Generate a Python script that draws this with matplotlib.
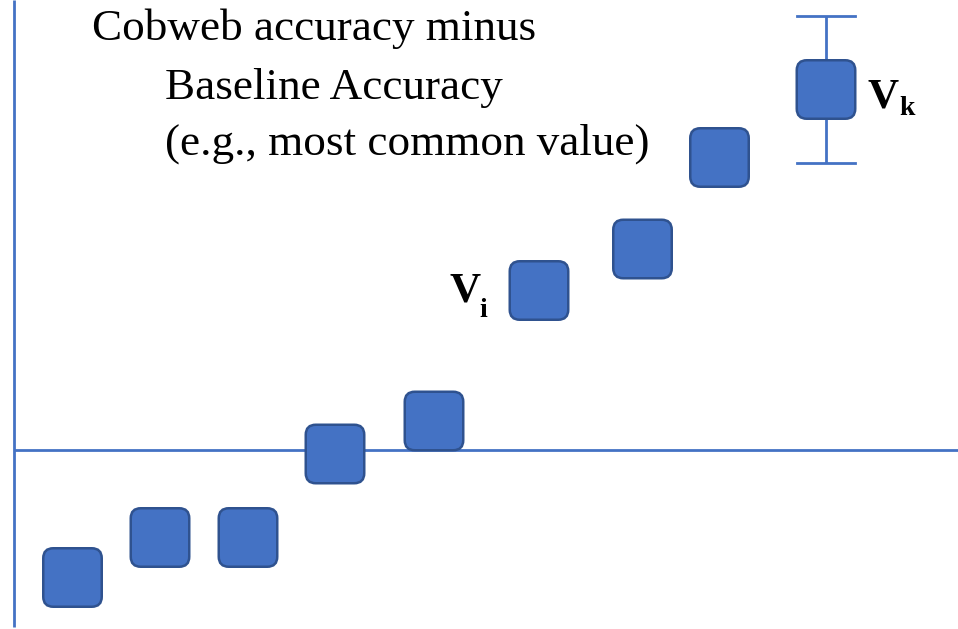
import matplotlib
matplotlib.use("Agg")
import matplotlib.pyplot as plt
from matplotlib.patches import FancyBboxPatch

# Data: attribute positions and (Cobweb accuracy - baseline accuracy)
x_pos = [0.725, 1.60, 2.48, 3.35, 4.34, 5.39, 6.425, 7.195, 8.26]
acc_diff = [-1.28, -0.88, -0.88, -0.045, 0.285, 1.59, 2.005, 2.92, 3.60]
err_index = 8
err_val = 0.737
label_i_index = 5
label_k_index = 8
title_lines = ["Cobweb accuracy minus", "Baseline Accuracy", "(e.g., most common value)"]

FILL = "#4472C4"
EDGE = "#2F528F"
LINE = "#4472C4"
SIZE = 0.585
LW = 2.0

fig = plt.figure(figsize=(9.58, 6.29), dpi=100)
ax = fig.add_axes([0, 0, 1, 1])
ax.set_xlim(0, 9.58)
ax.set_ylim(-1.795, 4.495)
ax.axis("off")

# axes lines
ax.plot([0.14, 0.14], [-1.77, 4.495], color=LINE, lw=LW, solid_capstyle="butt")
ax.plot([0.14, 9.58], [0, 0], color=LINE, lw=LW, solid_capstyle="butt")

# error bar
xe, ye = x_pos[err_index], acc_diff[err_index]
ax.errorbar([xe], [ye], yerr=[err_val], fmt="none", ecolor=LINE, elinewidth=LW,
            capsize=0, zorder=1)
ax.plot([xe - 0.29, xe + 0.29], [ye + err_val] * 2, color=LINE, lw=LW, zorder=1)
ax.plot([xe - 0.29, xe + 0.29], [ye - err_val] * 2, color=LINE, lw=LW, zorder=1)

for x, y in zip(x_pos, acc_diff):
    p = FancyBboxPatch((x - SIZE / 2, y - SIZE / 2), SIZE, SIZE,
                       boxstyle="round,pad=0,rounding_size=0.1",
                       facecolor=FILL, edgecolor=EDGE, linewidth=1.8, zorder=3)
    ax.add_patch(p)

serif = ["Liberation Serif", "DejaVu Serif"]
FS = 32.5
ax.text(0.92, 4.495 - 0.40, title_lines[0], fontsize=FS, family=serif,
        ha="left", va="baseline", color="black")
ax.text(1.65, 4.495 - 0.985, title_lines[1], fontsize=FS, family=serif,
        ha="left", va="baseline", color="black")
ax.text(1.65, 4.495 - 1.55, title_lines[2], fontsize=FS, family=serif,
        ha="left", va="baseline", color="black")

# V_i label
xi, yi = x_pos[label_i_index], acc_diff[label_i_index]
ax.text(xi - 0.89, 4.495 - 3.02, "V", fontsize=31, family=serif, weight="bold",
        ha="left", va="baseline")
ax.text(xi - 0.595, 4.495 - 3.17, "i", fontsize=20, family=serif, weight="bold",
        ha="left", va="baseline")

# V_k label
ax.text(8.68, 4.495 - 1.07, "V", fontsize=31, family=serif, weight="bold",
        ha="left", va="baseline")
ax.text(8.99, 4.495 - 1.15, "k", fontsize=20, family=serif, weight="bold",
        ha="left", va="baseline")

fig.savefig("out.png", dpi=100)
